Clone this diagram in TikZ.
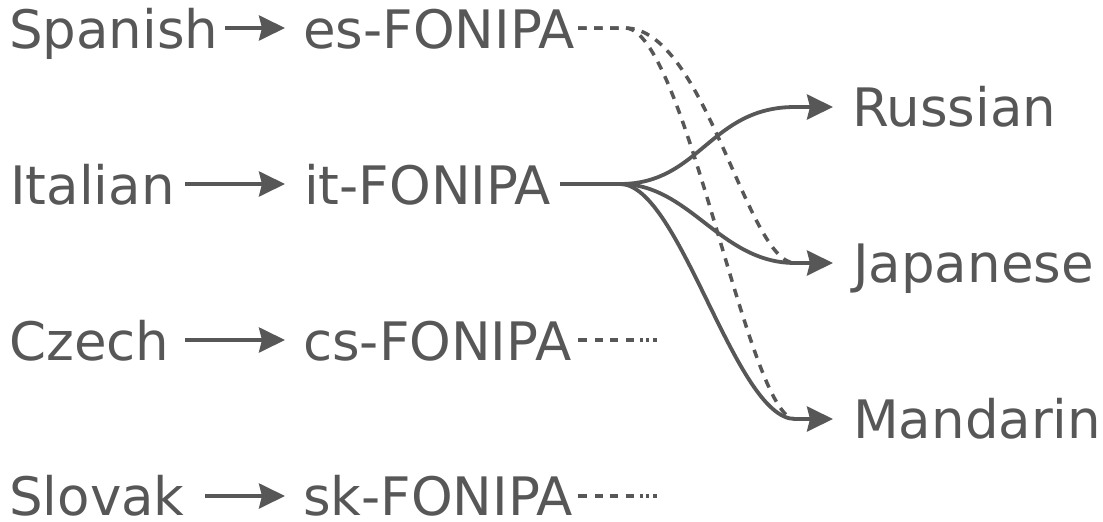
\documentclass[tikz,border=0pt]{standalone}
\usepackage{fontspec}
\setmainfont{DejaVu Sans}
\usetikzlibrary{arrows.meta}
\definecolor{fg}{HTML}{575757}
\begin{document}
\begin{tikzpicture}[x=1pt,y=-1pt,
  lbl/.style={anchor=base west, inner sep=0pt, text=fg, font=\fontsize{53}{60}\selectfont},
  arr/.style={draw=fg, line width=3.8pt, -{Stealth[length=26pt,width=25pt,inset=3pt]}},
  link/.style={draw=fg, line width=3.8pt},
  dlink/.style={draw=fg, line width=3.5pt, dash pattern=on 8.5pt off 7.5pt},
  tail/.style={draw=fg, line width=3.5pt, dash pattern=on 9pt off 8pt on 8pt off 7pt on 8pt off 8pt on 8pt off 6pt on 3pt off 3pt on 3pt off 4pt on 4pt off 30pt}]
\useasboundingbox (0,0) rectangle (1103,522);
% left column
\node[lbl] (spanish) at (9,48) {Spanish};
\node[lbl] (italian) at (10,204) {Italian};
\node[lbl] (czech) at (9,360) {Czech};
\node[lbl, text depth=0pt] (slovak) at (9,515) {Slovak};
% middle column
\node[lbl] (esf) at (303,48) {es-FONIPA};
\node[lbl] (itf) at (304,204) {it-FONIPA};
\node[lbl] (csf) at (303,360) {cs-FONIPA};
\node[lbl, text depth=0pt] (skf) at (303,515) {sk-FONIPA};
% right column
\node[lbl] (russian) at (852,126) {Russian};
\node[lbl] (japanese) at (853,282) {Japanese};
\node[lbl] (mandarin) at (853,438) {Mandarin};
% arrow start points
\coordinate (sa) at (225,28);
\coordinate (ia) at (185,184);
\coordinate (ca) at (185,340);
\coordinate (ka) at (205,496);
\draw[arr, shorten >=18pt] (sa) -- (sa -| esf.west);
\draw[arr, shorten >=19pt] (ia) -- (ia -| itf.west);
\draw[arr, shorten >=18pt] (ca) -- (ca -| csf.west);
\draw[arr, shorten >=18pt] (ka) -- (ka -| skf.west);
% junction points
\coordinate (es0) at (578,28);
\coordinate (es1) at (625,28);
\coordinate (it0) at (560,184);
\coordinate (it1) at (620,184);
\coordinate (cs0) at (578,340);
\coordinate (sk0) at (578,496);
\coordinate (tR) at (795,107);
\coordinate (tJ) at (795,263);
\coordinate (tM) at (795,419);
% dashed links from es-FONIPA
\draw[dlink] (es0) -- (es1) .. controls (705,28) and (747,263) .. (tJ);
\draw[dlink] (es0) -- (es1) .. controls (685,28) and (748,419) .. (tM);
% solid links from it-FONIPA
\draw[link] (it0) -- (it1) .. controls (700,184) and (710,107) .. (tR);
\draw[link] (it0) -- (it1) .. controls (690,184) and (720,263) .. (tJ);
\draw[link] (it0) -- (it1) .. controls (680,184) and (735,419) .. (tM);
% fading tails
\draw[tail] (cs0) -- ++(79,0) coordinate (cs1);
\draw[tail] (sk0) -- ++(79,0) coordinate (sk1);
% arrows into targets
\draw[arr, shorten >=19pt] (tR) -- (tR -| russian.west);
\draw[arr, shorten >=20pt] (tJ) -- (tJ -| japanese.west);
\draw[arr, shorten >=20pt] (tM) -- (tM -| mandarin.west);
\end{tikzpicture}
\end{document}
